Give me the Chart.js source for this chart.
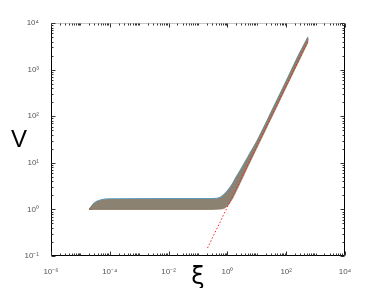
<!DOCTYPE html>
<html>
<head>
<meta charset="utf-8">
<script src="https://cdn.jsdelivr.net/npm/chart.js@4.4.0/dist/chart.umd.min.js"></script>
<style>
    html, body { margin: 0; padding: 0; background: #fff; }
</style>
</head>
<body>
<canvas id="grafico" width="382" height="288"></canvas>
<script>
// valores de xi comuns a todas as curvas
const xi = [2e-5, 3e-5, 5e-5, 1e-4, 1e-2, 0.3, 0.6, 1, 1.5, 2, 3, 5, 10, 30, 100, 300, 550];

// curvas V(xi), do patamar mais baixo ao mais alto
const curva1 = [1, 1.00, 1.00, 1.00, 1.00, 1.00, 1.02, 1.20, 1.75, 2.50, 4.30, 8.5, 21.0, 88, 428, 1780, 3920];
const curva2 = [1, 1.05, 1.07, 1.08, 1.08, 1.08, 1.11, 1.33, 1.94, 2.76, 4.67, 9.1, 22.3, 93, 446, 1858, 4058];
const curva3 = [1, 1.10, 1.14, 1.16, 1.16, 1.16, 1.21, 1.48, 2.15, 3.05, 5.06, 9.7, 23.3, 97, 464, 1938, 4202];
const curva4 = [1, 1.15, 1.22, 1.25, 1.26, 1.26, 1.32, 1.64, 2.38, 3.37, 5.49, 10.4, 24.4, 100, 484, 2024, 4352];
const curva5 = [1, 1.20, 1.31, 1.34, 1.35, 1.35, 1.43, 1.83, 2.64, 3.72, 5.95, 11.1, 25.5, 105, 504, 2113, 4508];
const curva6 = [1, 1.26, 1.40, 1.45, 1.46, 1.46, 1.56, 2.03, 2.93, 4.10, 6.45, 11.8, 26.6, 109, 525, 2204, 4665];
const curva7 = [1, 1.32, 1.50, 1.56, 1.58, 1.58, 1.70, 2.25, 3.25, 4.53, 7.00, 12.6, 27.8, 113, 547, 2300, 4834];
const curva8 = [1, 1.38, 1.60, 1.68, 1.70, 1.70, 1.85, 2.50, 3.60, 5.00, 7.60, 13.5, 29.0, 118, 570, 2400, 5000];

// reta de referencia (vermelha pontilhada)
const retaXi = [0.21, 575];
const retaV = [0.148, 4400];

const ticksX = [1e-6, 1e-4, 1e-2, 1, 1e2, 1e4];
const rotulosX = ['10\u207B\u2076', '10\u207B\u2074', '10\u207B\u00B2', '10\u2070', '10\u00B2', '10\u2074'];
const ticksY = [0.1, 1, 10, 100, 1000, 10000];
const rotulosY = ['10\u207B\u00B9', '10\u2070', '10\u00B9', '10\u00B2', '10\u00B3', '10\u2074'];

const cores = ['#8a7560', '#D95319', '#4DBEEE', '#7E2F8E', '#EDB120', '#A2142F', '#77AC30', '#0072BD'];
const curvas = [curva1, curva2, curva3, curva4, curva5, curva6, curva7, curva8];

function montarPontos(xs, ys) {
    return xs.map((x, i) => ({ x: x, y: ys[i] }));
}

const datasets = curvas.map((c, i) => ({
    data: montarPontos(xi, c),
    borderColor: cores[i] + 'B0',
    borderWidth: 1.2,
    pointRadius: 0,
    showLine: true,
    cubicInterpolationMode: 'monotone'
}));

// faixa entre a curva mais baixa e a mais alta
datasets[0].fill = 7;
datasets[0].backgroundColor = '#8c8272';

datasets.push({
    data: montarPontos(retaXi, retaV),
    borderColor: '#ff2020',
    borderWidth: 1,
    borderDash: [1.5, 2],
    pointRadius: 0,
    showLine: true,
    order: -1
});

// caixa, ticks para dentro e titulos dos eixos
const eixosPlugin = {
    id: 'eixos',
    afterDraw(chart) {
        const ctx = chart.ctx;
        const a = chart.chartArea;
        const sx = chart.scales.x;
        const sy = chart.scales.y;
        const L = Math.round(a.left) + 0.5, R = Math.round(a.right) - 0.5;
        const T = Math.round(a.top) + 0.5, B = Math.round(a.bottom) - 0.5;

        ctx.save();
        ctx.lineWidth = 1;
        ctx.strokeStyle = '#000';
        ctx.beginPath();
        ctx.moveTo(L, T); ctx.lineTo(L, B); ctx.lineTo(R, B); ctx.lineTo(R, T);
        ctx.stroke();
        ctx.strokeStyle = '#c8c8c8';
        ctx.beginPath();
        ctx.moveTo(L, T); ctx.lineTo(R, T);
        ctx.stroke();

        ctx.strokeStyle = '#333';
        ctx.beginPath();
        for (let e = -6; e <= 4; e++) {
            for (let m = 1; m < 10; m++) {
                const v = m * Math.pow(10, e);
                if (v > 1e4) break;
                const px = Math.round(sx.getPixelForValue(v)) + 0.5;
                const tam = ticksX.includes(v) ? 4 : 2;
                ctx.moveTo(px, B); ctx.lineTo(px, B - tam);
                ctx.moveTo(px, T); ctx.lineTo(px, T + tam);
            }
        }
        for (let e = -1; e <= 4; e++) {
            for (let m = 1; m < 10; m++) {
                const v = m * Math.pow(10, e);
                if (v > 1e4) break;
                const py = Math.round(sy.getPixelForValue(v)) + 0.5;
                const tam = m === 1 ? 4 : 2;
                ctx.moveTo(L, py); ctx.lineTo(L + tam, py);
                ctx.moveTo(R, py); ctx.lineTo(R - tam, py);
            }
        }
        ctx.stroke();

        ctx.fillStyle = '#000';
        ctx.font = '24px "Liberation Sans", Arial, sans-serif';
        ctx.textAlign = 'center';
        ctx.textBaseline = 'middle';
        ctx.fillText('V', 19, 140);
        ctx.font = '24px "DejaVu Sans", sans-serif';
        ctx.fillText('\u03BE', 198, 278);
        ctx.restore();
    }
};

new Chart(document.getElementById('grafico'), {
    type: 'scatter',
    data: { datasets: datasets },
    plugins: [eixosPlugin],
    options: {
        responsive: false,
        animation: false,
        layout: { padding: { left: 0, right: 37, top: 23, bottom: 0 } },
        plugins: {
            legend: { display: false },
            tooltip: { enabled: false }
        },
        scales: {
            x: {
                type: 'logarithmic',
                min: 1e-6,
                max: 1e4,
                grid: { display: false },
                border: { display: false },
                afterBuildTicks: (s) => { s.ticks = ticksX.map(v => ({ value: v })); },
                afterFit: (s) => { s.height = 32; },
                ticks: {
                    autoSkip: false,
                    maxRotation: 0,
                    padding: 3,
                    color: '#555',
                    font: { size: 8, family: 'Liberation Sans, Arial, sans-serif' },
                    callback: (value) => rotulosX[ticksX.indexOf(value)]
                }
            },
            y: {
                type: 'logarithmic',
                min: 0.1,
                max: 1e4,
                grid: { display: false },
                border: { display: false },
                afterBuildTicks: (s) => { s.ticks = ticksY.map(v => ({ value: v })); },
                afterFit: (s) => { s.width = 51; },
                ticks: {
                    autoSkip: false,
                    padding: 4,
                    color: '#555',
                    font: { size: 8, family: 'Liberation Sans, Arial, sans-serif' },
                    callback: (value) => rotulosY[ticksY.indexOf(value)]
                }
            }
        }
    }
});
</script>
</body>
</html>
